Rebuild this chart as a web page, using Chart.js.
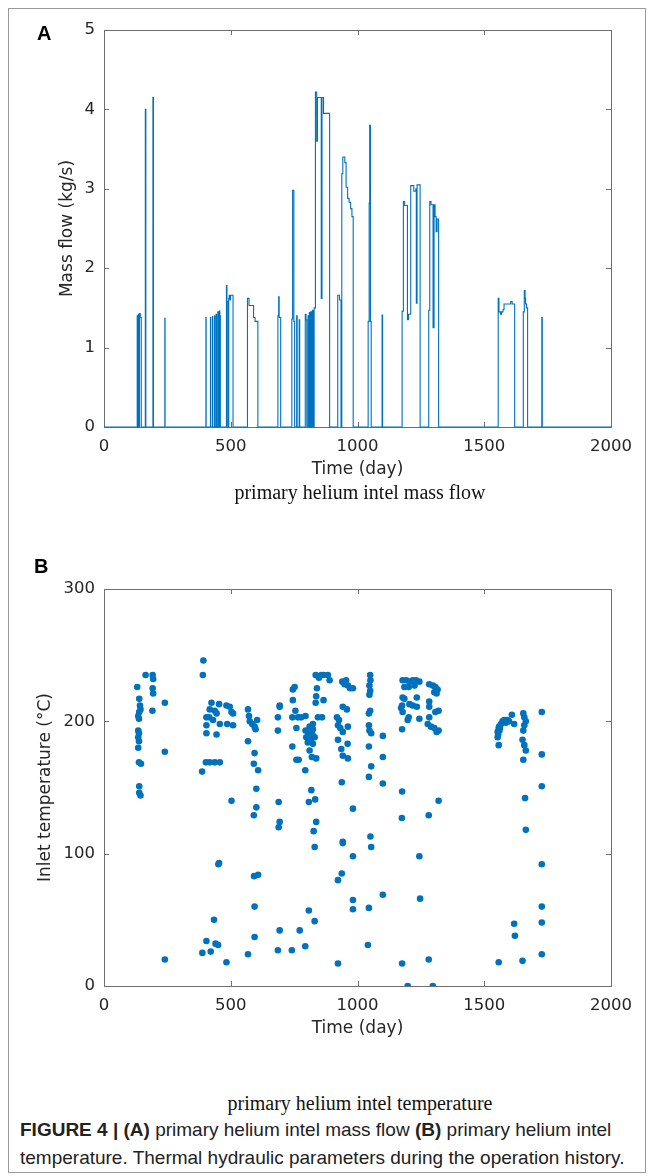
<!DOCTYPE html>
<html>
<head>
<meta charset="utf-8">
<script src="https://cdn.jsdelivr.net/npm/chart.js@4.4.1/dist/chart.umd.min.js"></script>
<style>
  body { margin: 0; background: #fff; }
  #page { position: relative; width: 653px; height: 1176px; overflow: hidden; }
  #frame { position: absolute; left: 8px; top: 8px; width: 636px; height: 1163px; border: 1px solid #9a9a9a; }
  canvas { position: absolute; left: 0; }
  #chartA { top: 0; }
  #chartB { top: 559px; }
  .panel { position: absolute; font: bold 20px "Liberation Sans", Arial, sans-serif; color: #000; }
  .sub { position: absolute; left: 0; width: 720px; text-align: center; font: 20px "Liberation Serif", "Times New Roman", serif; color: #111; }
  #cap { position: absolute; left: 20px; top: 1116px; font: 19px "Liberation Sans", Arial, sans-serif; line-height: 28px; color: #222; white-space: nowrap; }
</style>
</head>
<body>
<div id="page">
  <div id="frame"></div>
  <canvas id="chartA" width="653" height="480"></canvas>
  <canvas id="chartB" width="653" height="480"></canvas>
  <div class="panel" style="left:37px;top:22px">A</div>
  <div class="panel" style="left:34px;top:555px">B</div>
  <div class="sub" style="top:481px">primary helium intel mass flow</div>
  <div class="sub" style="top:1092px">primary helium intel temperature</div>
  <div id="cap"><b>FIGURE 4 | (A)</b> primary helium intel mass flow <b>(B)</b> primary helium intel<br>temperature. Thermal hydraulic parameters during the operation history.</div>
</div>
<script>
// axis ticks
const dayTicks = [0, 500, 1000, 1500, 2000];
const flowTicks = [0, 1, 2, 3, 4, 5];
const tempTicks = [0, 100, 200, 300];

// mass flow: day where a new (held) value starts
const flowDays = [0,
  131, 133, 136, 138, 140, 143, 147,
  163, 165, 193, 195, 240, 241,
  402, 403, 420, 421, 428, 429, 436, 437, 442, 444, 449, 451, 455, 457, 459,
  483, 485, 488, 492, 494, 497, 499, 509,
  566, 572, 590, 596, 607,
  686, 689, 691, 697,
  741, 744, 749, 752, 760, 762, 770, 772,
  794, 797, 800, 805, 807, 810, 812, 815, 818, 822, 825,
  829, 834, 839, 842, 857, 860, 866, 890,
  922, 929, 935, 938, 942, 950, 955, 961, 967, 973, 978, 983,
  1042, 1046, 1048, 1051, 1054, 1097, 1099,
  1176, 1181, 1186, 1197, 1201, 1210, 1222, 1230, 1232, 1235, 1247,
  1281, 1285, 1290, 1298, 1302, 1306, 1310, 1314, 1320,
  1555, 1558, 1564, 1568, 1574, 1578, 1604, 1610, 1620,
  1654, 1658, 1661, 1663, 1667, 1671,
  1727, 1729, 2000];
const flowValues = [0,
  1.40, 0, 1.42, 0, 1.43, 1.38, 0,
  4.00, 0, 4.15, 0, 1.37, 0,
  1.38, 0, 1.38, 0, 1.39, 0, 1.40, 0, 1.42, 0, 1.45, 0, 1.46, 1.40, 0,
  1.78, 1.58, 0, 1.62, 1.66, 1.60, 1.66, 0,
  1.62, 1.53, 1.38, 1.33, 0,
  1.40, 1.64, 1.38, 0,
  1.36, 2.98, 1.33, 0, 1.40, 0, 1.35, 0,
  1.42, 1.35, 0, 1.40, 0, 1.44, 0, 1.45, 0, 1.47, 0,
  1.50, 4.22, 3.60, 4.15, 1.62, 4.15, 3.95, 0,
  1.66, 1.60, 0, 3.19, 3.40, 3.33, 3.02, 2.88, 2.83, 2.75, 2.65, 0,
  1.33, 2.82, 3.80, 1.33, 0, 1.41, 0,
  1.46, 2.84, 2.79, 1.35, 1.42, 3.04, 2.97, 3.00, 1.56, 3.05, 0,
  1.47, 2.84, 2.80, 1.25, 2.80, 2.65, 2.46, 2.62, 0,
  1.62, 1.45, 1.42, 1.45, 1.48, 1.55, 1.58, 1.55, 0,
  1.45, 1.72, 1.62, 1.55, 1.50, 0,
  1.38, 0, 0];

// inlet temperature samples
const tempDays = [
  131, 139, 142, 144, 139, 135, 138, 135, 138, 135, 138, 135, 138, 146, 139, 144, 139,
  164, 192, 194, 192, 194, 191, 240, 240, 240,
  392, 390, 387, 402, 417, 437, 457, 424, 417, 437, 404, 415, 430, 404, 444, 457, 404, 444,
  454, 483, 496, 503, 509, 486, 509, 503, 454, 451, 434, 404, 421, 440, 450, 388, 483,
  568, 572, 575, 585, 594, 604, 598, 568, 594, 591, 608, 601, 601, 591, 608, 592, 594, 594, 568,
  693, 693, 686, 686, 689, 693, 689, 693, 686,
  752, 745, 745, 755, 743, 765, 778, 795, 759, 743, 759, 768, 794, 772, 741, 794,
  824, 811, 824, 795, 808, 822, 798, 818, 831, 804, 824, 811, 820, 837, 844, 835, 837, 840,
  835, 848, 857, 866, 883, 890, 866, 860, 818, 808, 833, 837, 827, 831, 808, 831,
  940, 949, 962, 971, 982, 955, 942, 958, 919, 927, 923, 932, 942, 962, 961, 923, 936, 942,
  962, 938, 982, 942, 942, 982, 938, 923, 982, 982, 923,
  1045, 1041, 1050, 1051, 1047, 1050, 1047, 1050, 1045, 1045, 1047, 1054, 1045, 1054, 1045, 1051, 1054,
  1100, 1100, 1100, 1100,
  1178, 1192, 1205, 1218, 1231, 1244, 1185, 1202, 1225, 1178, 1185, 1205, 1218, 1234, 1234, 1176,
  1172, 1178, 1202, 1198, 1244, 1176, 1176, 1175, 1244, 1247, 1176, 1198,
  1283, 1297, 1307, 1316, 1303, 1312, 1283, 1283, 1320, 1307, 1283, 1277, 1290, 1303, 1320, 1312,
  1320, 1281, 1281, 1297,
  1557, 1553, 1553, 1557, 1559, 1566, 1572, 1579, 1585, 1592, 1598, 1609, 1618, 1555, 1560, 1562,
  1557, 1618, 1621,
  1654, 1658, 1664, 1658, 1654, 1651, 1658, 1664, 1654, 1661, 1664, 1651,
  1727, 1727, 1727, 1727, 1727, 1727, 1727];
const tempValues = [
  226, 217, 212, 209, 207, 204, 202, 193, 191, 188, 185, 180, 169, 168, 151, 144, 146,
  235, 235, 232, 225, 221, 208, 214, 177, 20,
  246, 235, 162, 169, 169, 169, 169, 214, 209, 208, 203, 203, 201, 197, 206, 198, 191, 190,
  213, 212, 211, 207, 206, 198, 197, 140, 93, 92, 50, 34, 26, 32, 31, 25, 18,
  209, 204, 200, 198, 196, 201, 194, 185, 176, 168, 163, 149, 135, 129, 84, 83, 60, 37, 24,
  212, 211, 203, 193, 139, 124, 120, 42, 27,
  226, 224, 216, 208, 203, 203, 203, 204, 195, 181, 171, 171, 163, 42, 27, 30,
  198, 196, 194, 193, 191, 190, 188, 187, 188, 184, 183, 178, 173, 172, 203, 214, 219, 225,
  235, 233, 235, 235, 235, 231, 216, 203, 148, 139, 141, 124, 117, 105, 57, 49,
  230, 228, 227, 225, 225, 231, 211, 209, 203, 201, 197, 195, 192, 196, 183, 186, 179, 174,
  172, 154, 134, 109, 108, 98, 85, 80, 65, 58, 17,
  59, 31, 235, 231, 227, 223, 220, 208, 206, 197, 193, 191, 181, 166, 158, 113, 105,
  189, 173, 153, 69,
  231, 231, 230, 231, 231, 230, 226, 226, 227, 218, 217, 213, 212, 218, 211, 212,
  210, 207, 203, 201, 202, 194, 147, 127, 98, 66, 17, 0,
  228, 227, 226, 224, 222, 221, 215, 211, 208, 207, 203, 198, 196, 195, 193, 192,
  140, 129, 20, 0,
  182, 188, 192, 195, 196, 198, 200, 201, 199, 201, 200, 205, 198, 190, 193, 195,
  18, 47, 38,
  206, 203, 200, 197, 193, 186, 182, 178, 171, 142, 118, 19,
  207, 175, 151, 92, 60, 48, 24];

const blue = '#0072BD';
const inkColor = '#262626';
const boxColor = '#6e6e6e';
const tickFont = { family: 'DejaVu Sans', size: 16.5 };
const titleFont = { family: 'DejaVu Sans', size: 17 };

// MATLAB style box with inward ticks on all four sides
const boxPlugin = {
  id: 'box',
  beforeDatasetsDraw(chart) {
    const { ctx, chartArea: a, scales } = chart;
    ctx.save();
    ctx.strokeStyle = boxColor;
    ctx.lineWidth = 1;
    ctx.strokeRect(a.left + 0.5, a.top + 0.5, a.right - a.left, a.bottom - a.top);
    ctx.beginPath();
    scales.x.ticks.forEach(t => {
      const px = Math.round(scales.x.getPixelForValue(t.value)) + 0.5;
      ctx.moveTo(px, a.bottom); ctx.lineTo(px, a.bottom - 5);
      ctx.moveTo(px, a.top); ctx.lineTo(px, a.top + 5);
    });
    scales.y.ticks.forEach(t => {
      const py = Math.round(scales.y.getPixelForValue(t.value)) + 0.5;
      ctx.moveTo(a.left, py); ctx.lineTo(a.left + 5, py);
      ctx.moveTo(a.right, py); ctx.lineTo(a.right - 5, py);
    });
    ctx.stroke();
    ctx.restore();
  }
};

function makeScales(yTicks, yMax, yTitle, yTitlePad) {
  return {
    x: {
      type: 'linear', min: 0, max: 2000,
      afterBuildTicks: s => { s.ticks = dayTicks.map(v => ({ value: v })); },
      afterFit: s => { s.height = 53; },
      grid: { display: false, drawTicks: false },
      border: { display: false },
      ticks: { color: inkColor, font: tickFont, padding: 10, maxRotation: 0, callback: v => String(v) },
      title: { display: true, text: 'Time (day)', color: inkColor, font: titleFont, padding: { bottom: 0 } }
    },
    y: {
      type: 'linear', min: 0, max: yMax,
      afterBuildTicks: s => { s.ticks = yTicks.map(v => ({ value: v })); },
      afterFit: s => { s.width = 104; },
      grid: { display: false, drawTicks: false },
      border: { display: false },
      ticks: { color: inkColor, font: tickFont, padding: 9, callback: v => String(v) },
      title: { display: true, text: yTitle, color: inkColor, font: titleFont, padding: { top: yTitlePad } }
    }
  };
}

new Chart(document.getElementById('chartA'), {
  type: 'line',
  data: {
    datasets: [{
      data: flowDays.map((d, i) => ({ x: d, y: flowValues[i] })),
      borderColor: blue,
      borderWidth: 1.1,
      stepped: true,
      pointRadius: 0,
      fill: false,
      clip: 3
    }]
  },
  options: {
    responsive: false,
    animation: false,
    layout: { padding: { left: 0, right: 42, top: 30, bottom: 0 } },
    plugins: { legend: { display: false }, tooltip: { enabled: false } },
    scales: makeScales(flowTicks, 5, 'Mass flow (kg/s)', 57)
  },
  plugins: [boxPlugin]
});

new Chart(document.getElementById('chartB'), {
  type: 'scatter',
  data: {
    datasets: [{
      data: tempDays.map((d, i) => ({ x: d, y: tempValues[i] })),
      backgroundColor: blue,
      borderWidth: 0,
      pointRadius: 3.3
    }]
  },
  options: {
    responsive: false,
    animation: false,
    layout: { padding: { left: 0, right: 42, top: 30, bottom: 0 } },
    plugins: { legend: { display: false }, tooltip: { enabled: false } },
    scales: makeScales(tempTicks, 300, 'Inlet temperature (°C)', 35)
  },
  plugins: [boxPlugin]
});
</script>
</body>
</html>
